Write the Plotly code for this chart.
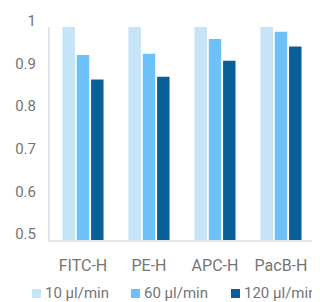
import plotly.graph_objects as go

categories = ["FITC-H", "PE-H", "APC-H", "PacB-H"]
series_names = ["10 µl/min", "60 µl/min", "120 µl/min"]
vals_10 = [1.0, 1.0, 1.0, 1.0]
vals_60 = [0.934, 0.937, 0.972, 0.989]
vals_120 = [0.877, 0.883, 0.921, 0.954]
colors = ["#c5e4f8", "#6ec0f8", "#0a5f96"]
y_ticks = [0.5, 0.6, 0.7, 0.8, 0.9, 1.0]

# layout geometry (figure pixels; page body adds an 8px margin)
W, H = 312, 294
ML, MR, MT, MB = 42, 6, 19, 62
PW, PH = W - ML - MR, H - MT - MB
legend_item_x = [24, 123, 223]   # swatch left edges, figure px
swatch = 9
legend_mid_y = 284.5


def px_to_paper_x(px):
    return (px - ML) / PW


def px_to_paper_y(py):
    return (H - MB - py) / PH


fig = go.Figure()
for name, vals, col in zip(series_names, [vals_10, vals_60, vals_120], colors):
    fig.add_trace(go.Bar(x=categories, y=vals, name=name, showlegend=False,
                         marker=dict(color=col, line=dict(width=0))))

# legend built from the series names and colours
for name, col, lx in zip(series_names, colors, legend_item_x):
    fig.add_shape(type="rect", xref="paper", yref="paper",
                  x0=px_to_paper_x(lx), x1=px_to_paper_x(lx + swatch),
                  y0=px_to_paper_y(legend_mid_y + 1 + swatch / 2),
                  y1=px_to_paper_y(legend_mid_y + 1 - swatch / 2),
                  fillcolor=col, line=dict(width=0))
    fig.add_annotation(xref="paper", yref="paper",
                       x=px_to_paper_x(lx + swatch + 2), y=px_to_paper_y(legend_mid_y),
                       xanchor="left", yanchor="middle", showarrow=False,
                       text=name, font=dict(size=15, color="#757575"))

fig.update_layout(
    width=W, height=H,
    margin=dict(l=ML, r=MR, t=MT, b=MB, autoexpand=False),
    paper_bgcolor="white", plot_bgcolor="white",
    barmode="group", bargap=0.35, bargroupgap=0.13,
    font=dict(family="Roboto", size=15, color="#757575"),
    showlegend=False,
    xaxis=dict(showline=True, linecolor="#e5e5e5", linewidth=2, showgrid=False,
               automargin=False,
               ticks="", ticklabelstandoff=10, tickfont=dict(size=16, color="#757575")),
    yaxis=dict(range=[0.5, 1.0], tickvals=y_ticks, showline=True, linecolor="#e5e5e5",
               linewidth=2, showgrid=False, zeroline=False, ticks="", automargin=False,
               ticklabelstandoff=9, ticklabelshift=-6,
               tickfont=dict(size=15, color="#757575")),
)

fig.write_html("out.html")
